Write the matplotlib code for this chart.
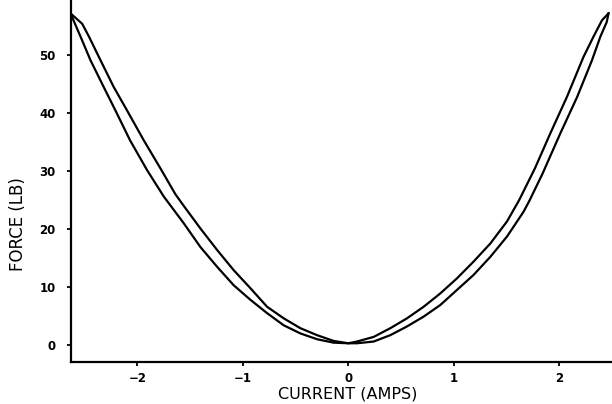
import matplotlib
matplotlib.use("Agg")
import matplotlib.pyplot as plt

# Branch A (left branch lower, right branch upper)
current_a = [-2.635, -2.54, -2.445, -2.32, -2.21, -2.07, -1.91, -1.75, -1.561, -1.403,
             -1.245, -1.087, -0.929, -0.771, -0.613, -0.455, -0.297, -0.139, 0.0,
             0.082, 0.240, 0.398, 0.556, 0.714, 0.872, 1.030, 1.188, 1.346, 1.504,
             1.62, 1.77, 1.915, 2.073, 2.23, 2.325, 2.405, 2.467]
force_a = [57.2, 53.2, 49.1, 44.5, 40.5, 35.3, 30.2, 25.6, 21.0, 16.9,
           13.5, 10.3, 7.8, 5.5, 3.4, 2.0, 1.0, 0.4, 0.3,
           0.6, 1.4, 2.9, 4.6, 6.6, 8.9, 11.5, 14.4, 17.5, 21.3,
           25.0, 30.5, 36.5, 42.8, 49.7, 53.2, 56.0, 57.2]

# Branch B (left branch upper, right branch lower)
current_b = [-2.635, -2.524, -2.46, -2.35, -2.225, -2.10, -1.94, -1.78, -1.64, -1.561,
             -1.403, -1.245, -1.087, -0.929, -0.771, -0.613, -0.455, -0.297, -0.139,
             0.0, 0.082, 0.240, 0.398, 0.556, 0.714, 0.872, 1.030, 1.188, 1.346,
             1.504, 1.662, 1.72, 1.84, 2.01, 2.17, 2.31, 2.39, 2.45, 2.467]
force_b = [57.2, 55.4, 53.2, 49.1, 44.5, 40.5, 35.3, 30.4, 26.0, 24.0,
           20.1, 16.4, 12.9, 9.8, 6.6, 4.6, 2.9, 1.7, 0.7,
           0.3, 0.3, 0.6, 1.7, 3.2, 4.9, 6.9, 9.5, 12.1, 15.2,
           18.7, 23.0, 25.0, 29.5, 36.5, 42.8, 49.1, 53.2, 55.7, 57.2]

xticks = [-2, -1, 0, 1, 2]
xticklabels = ["\u22122", "\u22121", "0", "1", "2"]
yticks = [0, 10, 20, 30, 40, 50]

fig = plt.figure(figsize=(6.12, 4.04), dpi=100)
ax = fig.add_axes([71/612, 42/404, 1 - 71/612, 1 - 42/404])

ax.plot(current_a, force_a, color="black", lw=1.6, solid_joinstyle="round")
ax.plot(current_b, force_b, color="black", lw=1.6, solid_joinstyle="round")

ax.set_xlim(-2.63, 2.50)
ax.set_ylim(-2.93, 59.5)

for s in ["top", "right"]:
    ax.spines[s].set_visible(False)
for s in ["left", "bottom"]:
    ax.spines[s].set_linewidth(1.6)

ax.set_xticks(xticks)
ax.set_xticklabels(xticklabels)
ax.set_yticks(yticks)
ax.tick_params(axis="both", direction="out", length=3, width=1.3, labelsize=8.5)
ax.tick_params(axis="y", pad=8)
ax.tick_params(axis="x", pad=4)
for lab in ax.get_xticklabels() + ax.get_yticklabels():
    lab.set_fontweight("bold")

ax.set_xlabel("CURRENT (AMPS)", fontsize=11.5)
ax.xaxis.set_label_coords(0.512, -0.067)
ax.set_ylabel("FORCE (LB)", fontsize=12)
ax.yaxis.set_label_coords(-0.082, 0.38)

fig.savefig("out.png", dpi=100)
